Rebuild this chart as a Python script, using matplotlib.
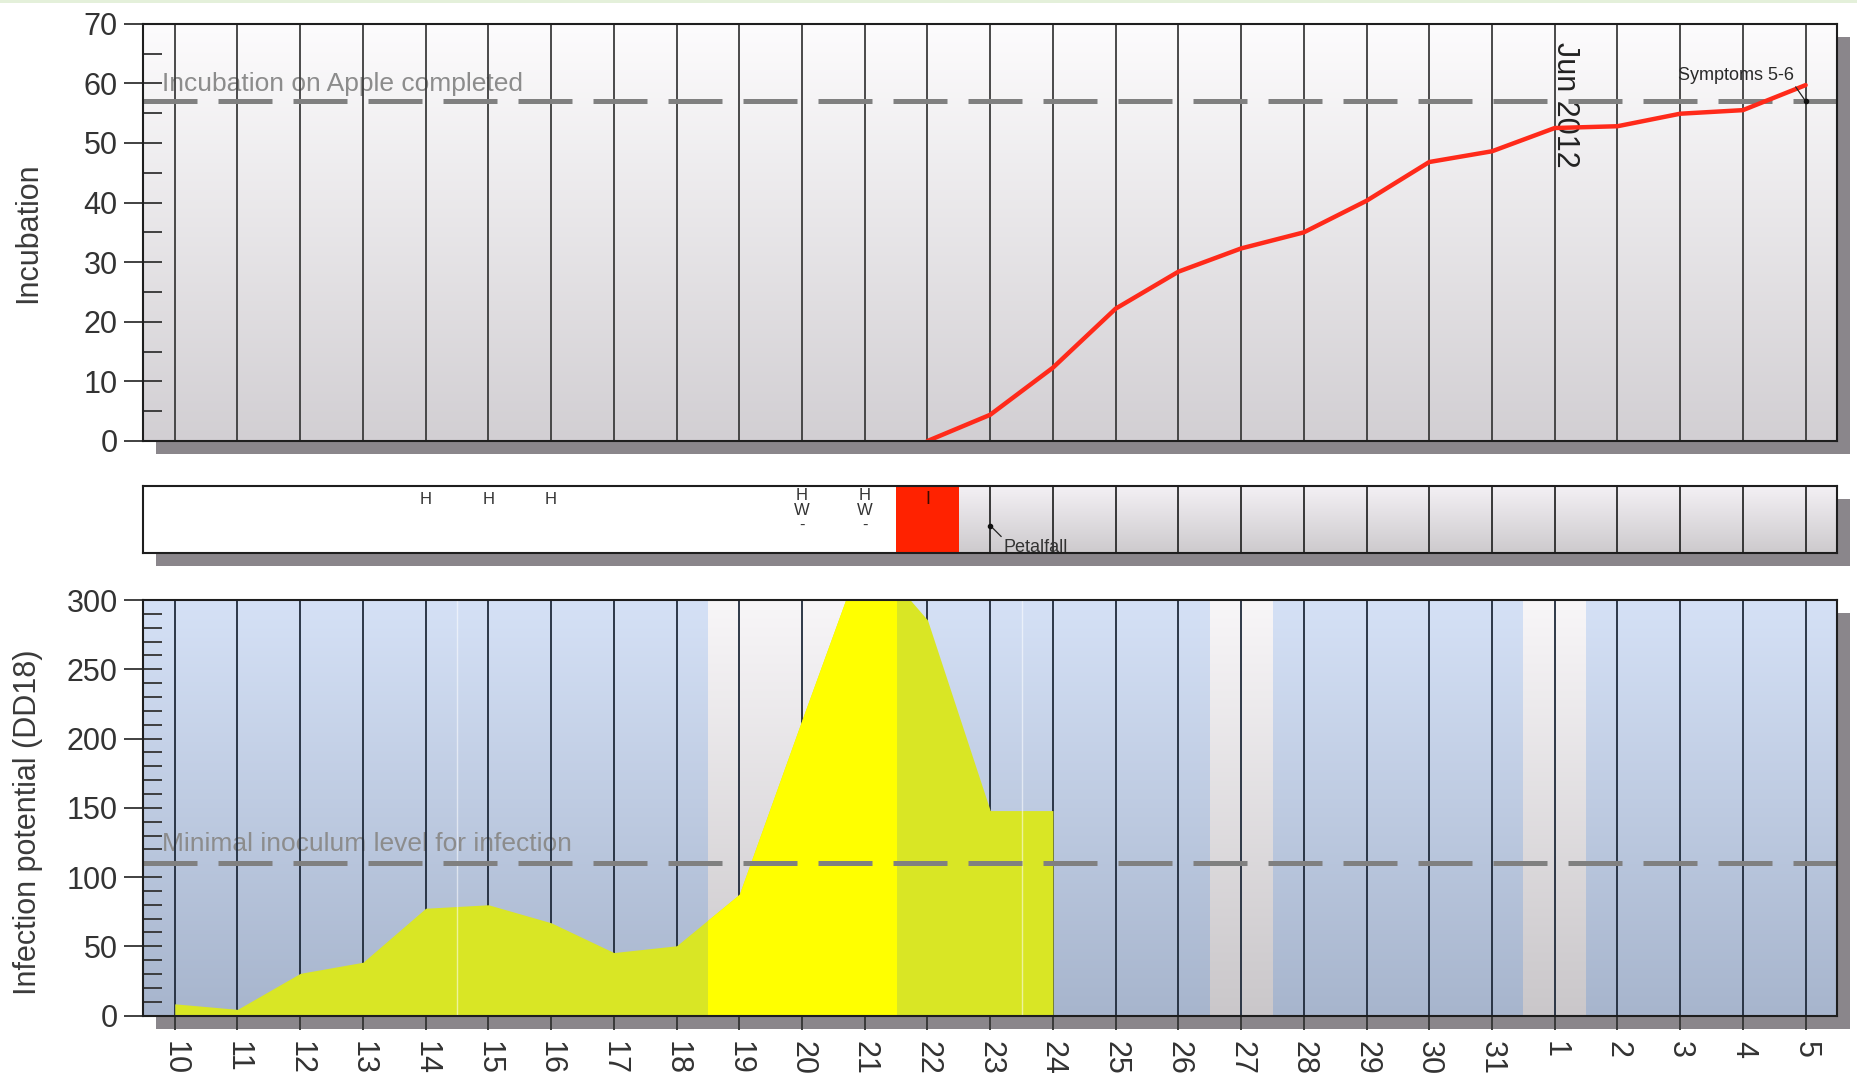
import numpy as np
import matplotlib
matplotlib.use('Agg')
import matplotlib.pyplot as plt
from matplotlib.patches import Rectangle
from matplotlib.colors import LinearSegmentedColormap

plt.rcParams['font.family'] = ['Liberation Sans', 'DejaVu Sans']

# ---------------- data ----------------
day_labels = ['10', '11', '12', '13', '14', '15', '16', '17', '18', '19', '20',
              '21', '22', '23', '24', '25', '26', '27', '28', '29', '30', '31',
              '1', '2', '3', '4', '5']
incubation_days = ['22', '23', '24', '25', '26', '27', '28', '29', '30', '31',
                   '1', '2', '3', '4', '5']
incubation_values = [0, 4.4, 12.3, 22.2, 28.4, 32.3, 35.0, 40.3, 46.8, 48.6,
                     52.5, 52.8, 54.9, 55.5, 59.7]
potential_days = ['10', '11', '12', '13', '14', '15', '16', '17', '18', '19',
                  '20', '21', '22', '23', '24']
potential_values = [8.5, 4.5, 30.5, 38.5, 77.5, 80, 67, 45.5, 50.4, 87.6,
                    213.6, 338, 285.6, 148, 148]
incubation_threshold = 57
inoculum_threshold = 110
dry_periods = [('19', '21'), ('27', '27'), ('1', '1')]
event_days = ['14', '15', '16', '20', '21']
event_marks = ['H', 'H', 'H', 'H\nW\n-', 'H\nW\n-']
infection_days = ['22']
petalfall_day = '23'
symptoms_day = '5'
half_day_marks = ['14', '23']
month_start = '1'
month_label = 'Jun 2012'

# ---------------- figure ----------------
W, H = 1858, 1081
fig = plt.figure(figsize=(W / 100, H / 100), dpi=100)
fig.patch.set_facecolor('white')


def rect(l, t, r, b):
    return [l / W, 1 - b / H, (r - l) / W, (b - t) / H]


L, R = 143.4, 1837
ax1 = fig.add_axes(rect(L, 23.7, R, 441))
ax2 = fig.add_axes(rect(L, 486, R, 553))
ax3 = fig.add_axes(rect(L, 600, R, 1015.6))

# thin pale strip at the very top (screenshot border)
fig.add_artist(Rectangle((0, 1 - 3 / H), 1, 3 / H, transform=fig.transFigure,
                         facecolor='#e4f0da', edgecolor='none', zorder=-2))

for ax in (ax1, ax2, ax3):
    p = ax.get_position()
    fig.add_artist(Rectangle((p.x0 + 13 / W, p.y0 - 13 / H), p.width, p.height,
                             transform=fig.transFigure, facecolor='#8a868b',
                             edgecolor='none', zorder=-1))
    for s in ax.spines.values():
        s.set_linewidth(1.5)
        s.set_color('#1e1e1e')
        s.set_zorder(10)


def idx(d):
    return day_labels.index(d)


def gradient(ax, x0, x1, y0, y1, top, bottom, z=0.0):
    cmap = LinearSegmentedColormap.from_list('g', [top, bottom])
    g = np.linspace(0, 1, 256).reshape(-1, 1)
    ax.imshow(g, extent=[x0, x1, y0, y1], aspect='auto', cmap=cmap,
              origin='upper', zorder=z, interpolation='bilinear')


x_all = np.arange(len(day_labels))
xlim = (-0.5, len(day_labels) - 0.5)
dash = (0, (10.8, 4.2))
tick_c = '#333333'

# ---------------- top: incubation ----------------
gradient(ax1, xlim[0], xlim[1], 0, 70, '#fdfcfd', '#d2cfd3')
for x in x_all:
    ax1.axvline(x, color='#3c3c3c', lw=1.3, zorder=2)
ax1.axhline(incubation_threshold, color='#808080', lw=3.6, ls=dash, zorder=3)
ax1.text(-0.2, 58.7, 'Incubation on Apple completed', fontsize=19,
         color='#8c8c8c', zorder=1.5, va='baseline', ha='left')
xi = [idx(d) for d in incubation_days]
ax1.plot(xi, incubation_values, color='#ff2a1a', lw=3.2, zorder=4,
         solid_joinstyle='round', solid_capstyle='round')
ax1.text(idx(month_start) - 0.07, 67, month_label, rotation=-90, fontsize=22,
         color='#222222', ha='left', va='top', zorder=1.5)
sx = idx(symptoms_day)
ax1.annotate('Symptoms 5-6', xy=(sx, incubation_threshold), xytext=(sx - 0.19, 61.3),
             ha='right', va='center', fontsize=13, color='#2a2a2a', zorder=6,
             arrowprops=dict(arrowstyle='-', color='#222222', lw=0.9,
                             shrinkA=0, shrinkB=0, relpos=(1, 0)))
ax1.plot([sx], [incubation_threshold], 'o', ms=3, color='#111111', zorder=6)
ax1.set_xlim(xlim)
ax1.set_ylim(0, 70)
ax1.set_yticks(range(0, 71, 10))
ax1.set_yticks(range(0, 71, 5), minor=True)
ax1.tick_params(axis='y', which='major', direction='inout', length=27, width=1.3,
                color=tick_c, labelsize=22, labelcolor=tick_c, pad=5)
ax1.tick_params(axis='y', which='minor', direction='in', length=13.5, width=1.3,
                color=tick_c)
ax1.tick_params(axis='x', which='both', bottom=False, labelbottom=False)

# ---------------- middle: events ----------------
ax2.set_facecolor('white')
inf_idx = [idx(d) for d in infection_days]
after = max(inf_idx) + 0.5
gradient(ax2, after, xlim[1], 0, 1, '#f4f1f5', '#cdcacd')
for i in inf_idx:
    ax2.axvspan(i - 0.5, i + 0.5, color='#ff2200', zorder=1, lw=0)
    ax2.text(i, 0.73, 'I', fontsize=13, color='#3a0a00', ha='center',
             va='baseline', zorder=3)
for x in x_all:
    if x > after:
        ax2.axvline(x, color='#2a2a2a', lw=1.3, zorder=2)
for d, m in zip(event_days, event_marks):
    if '\n' in m:
        ax2.text(idx(d), 0.34, m, fontsize=12, color='#333333', ha='center',
                 va='baseline', multialignment='center', linespacing=1.0, zorder=3)
    else:
        ax2.text(idx(d), 0.73, m, fontsize=12, color='#333333', ha='center',
                 va='baseline', zorder=3)
px = idx(petalfall_day)
ax2.annotate('Petalfall', xy=(px, 0.41), xytext=(px + 0.22, 0.01),
             ha='left', va='baseline', fontsize=13, color='#333333', zorder=4,
             arrowprops=dict(arrowstyle='-', color='#222222', lw=0.9,
                             shrinkA=0, shrinkB=0, relpos=(0, 1)))
ax2.plot([px], [0.41], 'o', ms=3, color='#111111', zorder=4)
ax2.set_xlim(xlim)
ax2.set_ylim(0, 1)
ax2.set_xticks([])
ax2.set_yticks([])

# ---------------- bottom: infection potential ----------------
gradient(ax3, xlim[0], xlim[1], 0, 300, '#d5e1f6', '#a7b5cd')
for a, b in dry_periods:
    gradient(ax3, idx(a) - 0.5, idx(b) + 0.5, 0, 300, '#f8f6f8', '#cac7ca', z=0.1)
for x in x_all:
    ax3.axvline(x, color='#1f2a3a', lw=1.3, zorder=1)
ax3.text(-0.2, 118.8, 'Minimal inoculum level for infection', fontsize=19,
         color='#8c8c8c', zorder=0.5, va='baseline', ha='left')
xp = [idx(d) for d in potential_days]
ax3.fill_between(xp, 0, potential_values, color='#d9e625', lw=0, zorder=2)
for a, b in dry_periods:
    bright = ax3.fill_between(xp, 0, potential_values, color='#ffff00', lw=0, zorder=2.1)
    bright.set_clip_path(Rectangle((idx(a) - 0.5, 0), idx(b) - idx(a) + 1, 300,
                                   transform=ax3.transData))
for d in half_day_marks:
    ax3.axvline(idx(d) + 0.5, color='white', alpha=0.55, lw=1.0, zorder=2.5)
ax3.axhline(inoculum_threshold, color='#808080', lw=3.6, ls=dash, zorder=3)
ax3.set_xlim(xlim)
ax3.set_ylim(0, 300)
ax3.set_yticks(range(0, 301, 50))
ax3.set_yticks(range(0, 301, 10), minor=True)
ax3.tick_params(axis='y', which='major', direction='inout', length=27, width=1.3,
                color=tick_c, labelsize=22, labelcolor=tick_c, pad=5)
ax3.tick_params(axis='y', which='minor', direction='in', length=13.5, width=1.3,
                color=tick_c)
ax3.set_xticks(x_all)
ax3.set_xticklabels(day_labels, rotation=-90)
ax3.tick_params(axis='x', which='major', direction='out', length=10, width=1.3,
                color=tick_c, labelsize=22, labelcolor=tick_c, pad=8.5)

# ---------------- y labels ----------------
p1 = ax1.get_position()
fig.text(28 / W, (p1.y0 + p1.y1) / 2, 'Incubation', rotation=90, fontsize=22,
         color='#3a3a3a', ha='center', va='center')
fig.text(28 / W, 1 - 822 / H, 'Infection potential (DD18)', rotation=90,
         fontsize=22, color='#3a3a3a', ha='center', va='center')

fig.savefig('out.png', dpi=100, facecolor='white')
